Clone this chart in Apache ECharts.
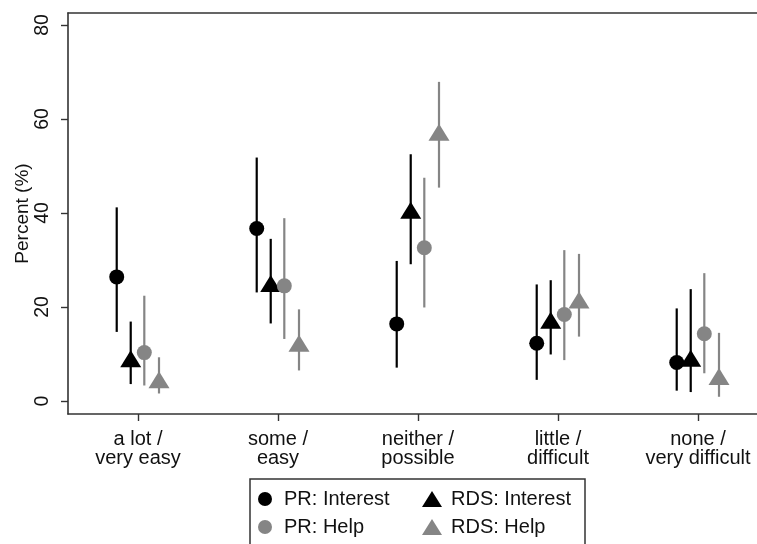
<!DOCTYPE html>
<html>
<head>
<meta charset="utf-8">
<script src="https://cdn.jsdelivr.net/npm/echarts@6/dist/echarts.min.js"></script>
<style>
html,body{margin:0;padding:0;background:#fff;overflow:hidden;}
#chart{width:757px;height:544px;}
</style>
</head>
<body>
<div id="chart"></div>
<script>
var categories = ['a lot /\nvery easy', 'some /\neasy', 'neither /\npossible', 'little /\ndifficult', 'none /\nvery difficult'];
var yTicks = [0, 20, 40, 60, 80];

var prInterest   = [26.4, 36.7, 16.4, 12.3, 8.2];
var prInterestLo = [14.7, 23.1, 7.1, 4.5, 2.2];
var prInterestHi = [41.2, 51.8, 29.8, 24.8, 19.7];

var rdsInterest   = [9.0, 25.0, 40.6, 17.2, 9.1];
var rdsInterestLo = [3.6, 16.5, 29.1, 9.9, 1.9];
var rdsInterestHi = [16.9, 34.5, 52.5, 25.7, 23.8];

var prHelp   = [10.3, 24.5, 32.6, 18.4, 14.3];
var prHelpLo = [3.3, 13.2, 19.9, 8.7, 5.9];
var prHelpHi = [22.4, 38.9, 47.5, 32.1, 27.2];

var rdsHelp   = [4.5, 12.3, 57.2, 21.5, 5.2];
var rdsHelpLo = [1.6, 6.5, 45.4, 13.7, 0.9];
var rdsHelpHi = [9.3, 19.5, 67.9, 31.3, 14.5];

var FONT = '"Liberation Sans", Arial, Helvetica, sans-serif';
var BLACK = '#000000';
var GRAY = '#858585';

var groups = [
  {name: 'PR: Interest', v: prInterest, lo: prInterestLo, hi: prInterestHi, off: -0.152, color: BLACK, symbol: 'circle', size: 15},
  {name: 'RDS: Interest', v: rdsInterest, lo: rdsInterestLo, hi: rdsInterestHi, off: -0.052, color: BLACK, symbol: 'triangle', size: [21, 17]},
  {name: 'PR: Help', v: prHelp, lo: prHelpLo, hi: prHelpHi, off: 0.045, color: GRAY, symbol: 'circle', size: 15},
  {name: 'RDS: Help', v: rdsHelp, lo: rdsHelpLo, hi: rdsHelpHi, off: 0.15, color: GRAY, symbol: 'triangle', size: [21, 17]}
];

var series = [];
groups.forEach(function (g) {
  var barData = g.v.map(function (val, i) { return [i + g.off, g.lo[i], g.hi[i]]; });
  series.push({
    type: 'custom',
    name: g.name + ' CI',
    z: 2,
    silent: true,
    data: barData,
    renderItem: function (params, api) {
      var x = api.value(0);
      var p1 = api.coord([x, api.value(1)]);
      var p2 = api.coord([x, api.value(2)]);
      return {
        type: 'line',
        shape: {x1: p1[0], y1: p1[1], x2: p2[0], y2: p2[1]},
        style: {stroke: g.color, lineWidth: 2.2}
      };
    }
  });
});
groups.forEach(function (g) {
  series.push({
    type: 'scatter',
    name: g.name,
    z: 3,
    symbol: g.symbol,
    symbolSize: g.size,
    itemStyle: {color: g.color, opacity: 1},
    data: g.v.map(function (val, i) { return [i + g.off, val]; })
  });
});

var chart = echarts.init(document.getElementById('chart'), null, {renderer: 'canvas'});
chart.setOption({
  animation: false,
  backgroundColor: '#ffffff',
  grid: {left: 68, top: 13, right: -11, height: 401, containLabel: false, outerBoundsMode: 'none'},
  xAxis: [{
    type: 'value',
    min: -0.5,
    max: 4.5,
    position: 'bottom',
    splitLine: {show: false},
    axisLine: {show: true, onZero: false, lineStyle: {color: '#333', width: 1.6}},
    axisTick: {show: true, length: 7, customValues: [0, 1, 2, 3, 4], lineStyle: {color: '#333', width: 1.4}},
    axisLabel: {
      customValues: [0, 1, 2, 3, 4],
      formatter: function (v) { return categories[Math.round(v)]; },
      fontFamily: FONT, fontSize: 20, color: '#111', lineHeight: 19, margin: 16
    }
  }, {
    type: 'value',
    min: -0.5,
    max: 4.5,
    position: 'top',
    splitLine: {show: false},
    axisLine: {show: true, onZero: false, lineStyle: {color: '#333', width: 1.6}},
    axisTick: {show: false},
    axisLabel: {show: false}
  }],
  yAxis: {
    type: 'value',
    min: -2.766,
    max: 82.553,
    position: 'left',
    splitLine: {show: false},
    axisLine: {show: true, onZero: false, lineStyle: {color: '#333', width: 1.6}},
    axisTick: {show: true, length: 7, customValues: yTicks, lineStyle: {color: '#333', width: 1.4}},
    axisLabel: {
      customValues: yTicks,
      rotate: 90,
      fontFamily: FONT, fontSize: 19.5, color: '#111', margin: 15
    },
    name: 'Percent (%)',
    nameLocation: 'middle',
    nameGap: 36,
    nameMoveOverlap: false,
    nameTextStyle: {fontFamily: FONT, fontSize: 19, color: '#111'}
  },
  legend: [{
    orient: 'vertical',
    left: 258,
    top: 489,
    padding: 0,
    height: 60,
    itemGap: 8,
    itemWidth: 14,
    itemHeight: 14,
    data: ['PR: Interest', 'PR: Help'],
    textStyle: {fontFamily: FONT, fontSize: 20, color: '#111', padding: [0, 0, 0, 7]}
  }, {
    orient: 'vertical',
    left: 422,
    top: 489,
    padding: 0,
    height: 60,
    itemGap: 8,
    itemWidth: 20,
    itemHeight: 16,
    symbolKeepAspect: false,
    data: ['RDS: Interest', 'RDS: Help'],
    textStyle: {fontFamily: FONT, fontSize: 20, color: '#111', padding: [0, 0, 0, 4]}
  }],
  graphic: [{
    type: 'rect',
    shape: {x: 250, y: 479, width: 335, height: 80},
    style: {fill: 'none', stroke: '#333', lineWidth: 1.5},
    silent: true,
    z: -1
  }, {
    type: 'rect',
    shape: {x: 749, y: 15, width: 10, height: 397},
    style: {fill: '#ffffff', stroke: 'none'},
    silent: true,
    z: 100
  }],
  series: series
});
</script>
</body>
</html>
